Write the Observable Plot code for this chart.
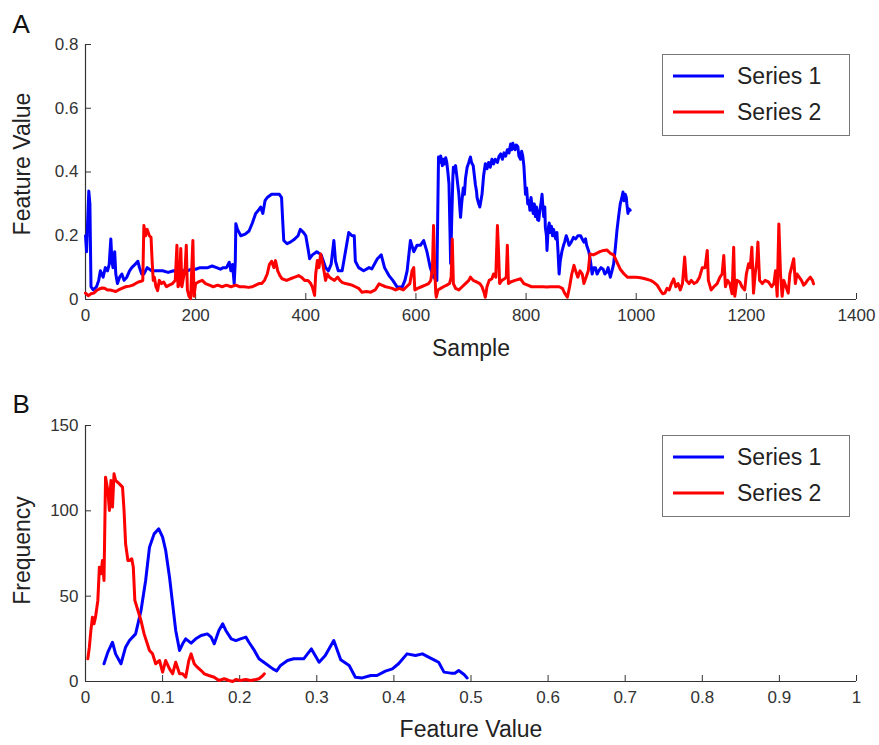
<!DOCTYPE html>
<html><head><meta charset="utf-8">
<script src="https://cdn.jsdelivr.net/npm/d3@7"></script>
<script src="https://cdn.jsdelivr.net/npm/@observablehq/plot@0.6"></script>
<style>
body{margin:0;background:#fff;font-family:"Liberation Sans",Arial,sans-serif;}
#fig{position:relative;width:879px;height:745px;}
#fig svg{display:block;}
</style></head><body><div id="fig"></div>
<script>
// ---------- Data ----------
const seriesNames = ["Series 1", "Series 2"];
const sampleTicks = [0, 200, 400, 600, 800, 1000, 1200, 1400];
const featureTicks = [0, 0.2, 0.4, 0.6, 0.8];
const histXTicks = [0, 0.1, 0.2, 0.3, 0.4, 0.5, 0.6, 0.7, 0.8, 0.9, 1];
const freqTicks = [0, 50, 100, 150];

// Panel A, Series 1
const s1Sample = [0,2,4,6,8,10,14,20,24,27,32,36,40,43,46,48,50,53,55,58,62,66,70,75,80,84,90,95,98,102,106,112,120,130,140,150,160,170,176,185,192,200,208,215,222,230,238,245,250,256,261,264,267,270,272,273,276,282,290,297,303,309,314,318,322,326,330,338,345,352,356,358,360,366,372,380,386,390,396,400,404,407,412,420,428,432,436,441,446,451,454,459,466,472,478,484,488,490,496,505,515,520,530,537,543,551,558,566,575,580,584,590,596,602,608,614,620,626,632,
  638,641,643,645,648,650,652,654,656,658,660,662,663,665,667,668,670,672,674,676,678,680,681,683,686,688,690,693,696,699,701,704,706,708,710,711,714,716,718,720,723,726,729,732,735,738,741,744,748,751,754,757,760,763,766,769,772,774,776,778,780,782,785,787,790,792,794,796,799,801,803,805,807,809,811,813,815,817,819,821,823,825,827,829,831,832,834,835,837,838,840,842,844,846,848,850,852,854,856,858,860,862,865,868,870,873,875,878,882,886,890,894,899,902,905,908,910,912,914,917,920,923,926,929,932,936,940,943,946,949,953,956,959,962,965,968,971,974,976,978,980,982,983,985,987,989];
const s1Value = [0.2,0.15,0.25,0.34,0.3,0.04,0.03,0.04,0.06,0.09,0.07,0.1,0.09,0.11,0.19,0.12,0.1,0.15,0.08,0.05,0.07,0.08,0.06,0.07,0.09,0.1,0.11,0.12,0.1,0.08,0.08,0.1,0.09,0.09,0.09,0.085,0.09,0.085,0.09,0.09,0.095,0.095,0.1,0.1,0.1,0.105,0.1,0.095,0.1,0.1,0.117,0.09,0.11,0.05,0.12,0.238,0.22,0.2,0.205,0.215,0.24,0.27,0.28,0.29,0.27,0.31,0.32,0.33,0.33,0.33,0.32,0.25,0.185,0.175,0.18,0.19,0.2,0.22,0.21,0.2,0.16,0.128,0.14,0.15,0.14,0.12,0.1,0.09,0.11,0.185,0.12,0.09,0.09,0.15,0.21,0.2,0.2,0.12,0.1,0.09,0.1,0.096,0.128,0.14,0.1,0.075,0.06,0.039,0.039,0.06,0.09,0.185,0.15,0.17,0.17,0.185,0.15,0.1,0.07,
  0.06,0.447,0.43,0.45,0.42,0.44,0.425,0.445,0.43,0.4,0.363,0.2,0.113,0.25,0.38,0.415,0.4,0.42,0.39,0.36,0.33,0.28,0.258,0.3,0.35,0.33,0.38,0.415,0.43,0.447,0.43,0.42,0.39,0.36,0.34,0.32,0.3,0.29,0.31,0.33,0.39,0.426,0.41,0.43,0.415,0.44,0.425,0.44,0.43,0.45,0.457,0.44,0.46,0.45,0.47,0.46,0.488,0.47,0.49,0.475,0.47,0.485,0.48,0.45,0.44,0.465,0.45,0.42,0.33,0.35,0.3,0.31,0.28,0.32,0.29,0.27,0.3,0.26,0.29,0.25,0.248,0.28,0.3,0.33,0.28,0.26,0.29,0.227,0.2,0.154,0.22,0.24,0.21,0.23,0.2,0.22,0.2,0.19,0.21,0.15,0.08,0.12,0.15,0.17,0.18,0.2,0.19,0.17,0.18,0.195,0.19,0.2,0.2,0.19,0.18,0.19,0.17,0.16,0.15,0.12,0.08,0.1,0.1,0.08,0.09,0.1,0.095,0.08,0.085,0.1,0.07,0.09,0.112,0.16,0.216,0.26,0.3,0.32,0.337,0.31,0.33,0.32,0.3,0.27,0.284,0.28];

// Panel A, Series 2
const s2Sample = [0,5,10,15,20,25,30,35,40,45,49,55,60,66,73,80,86,91,96,101,104,106,109,112,116,119,121,123,125,128,131,134,138,142,147,152,158,163,166,168,171,173,175,178,181,183,185,188,191,193,195,197,200,205,212,218,225,232,240,248,256,264,273,280,288,296,303,309,315,320,325,330,334,338,342,345,349,353,357,365,372,380,387,392,398,404,409,412,416,418,421,424,427,430,433,436,439,443,447,452,458,462,466,472,478,484,490,496,502,510,518,526,533,538,545,550,557,563,570,577,583,589,593,596,598,603,610,617,623,627,630,632,634,636,637,640,645,650,656,661,664,666,668,672,678,684,690,696,699,704,710,716,720,724,726,729,733,738,741,745,748,750,752,756,761,764,766,768,772,780,790,796,803,810,820,830,838,844,852,860,866,870,875,879,883,887,890,894,898,902,905,909,913,916,922,928,934,941,947,953,959,965,971,978,984,990,1000,1008,1016,1026,1032,1038,1044,1048,1052,1056,1060,1064,1068,1072,1076,1080,1084,1088,1091,1096,1100,1105,1110,1115,1120,1125,1129,1131,1136,1141,1147,1152,1156,1159,1162,1166,1170,1174,1177,1179,1183,1188,1192,1197,1200,1204,1207,1210,1213,1216,1219,1221,1224,1229,1234,1240,1246,1250,1253,1256,1259,1262,1265,1268,1272,1276,1279,1282,1286,1289,1292,1296,1300,1304,1307,1311,1316,1320,1322];
const s2Value = [0.02,0.012,0.018,0.02,0.028,0.033,0.036,0.035,0.03,0.03,0.028,0.025,0.03,0.035,0.04,0.042,0.045,0.05,0.055,0.057,0.06,0.232,0.2,0.22,0.2,0.195,0.12,0.06,0.07,0.04,0.028,0.06,0.05,0.055,0.04,0.045,0.05,0.06,0.17,0.04,0.05,0.16,0.04,0.07,0.1,0.17,0.03,0.01,0.003,0.1,0.185,0.01,0.05,0.055,0.06,0.05,0.045,0.04,0.045,0.04,0.045,0.04,0.045,0.04,0.04,0.038,0.04,0.045,0.05,0.05,0.06,0.08,0.11,0.12,0.1,0.122,0.09,0.075,0.065,0.06,0.065,0.07,0.075,0.07,0.06,0.06,0.05,0.039,0.013,0.08,0.122,0.1,0.143,0.12,0.09,0.06,0.08,0.07,0.065,0.06,0.07,0.06,0.054,0.05,0.048,0.045,0.04,0.035,0.023,0.025,0.023,0.03,0.049,0.045,0.04,0.038,0.035,0.03,0.035,0.03,0.04,0.05,0.09,0.1,0.03,0.035,0.04,0.045,0.05,0.06,0.1,0.232,0.1,0.02,0.007,0.03,0.035,0.04,0.045,0.05,0.07,0.19,0.05,0.035,0.03,0.04,0.05,0.06,0.07,0.06,0.055,0.05,0.04,0.02,0.007,0.04,0.06,0.065,0.08,0.07,0.232,0.15,0.05,0.06,0.065,0.07,0.17,0.05,0.055,0.06,0.065,0.05,0.045,0.04,0.04,0.04,0.039,0.04,0.04,0.04,0.035,0.02,0.007,0.04,0.08,0.107,0.09,0.07,0.09,0.08,0.05,0.07,0.09,0.143,0.14,0.145,0.15,0.154,0.155,0.145,0.14,0.117,0.095,0.08,0.07,0.07,0.07,0.068,0.065,0.06,0.054,0.045,0.028,0.018,0.02,0.035,0.03,0.05,0.065,0.04,0.05,0.03,0.05,0.133,0.06,0.05,0.06,0.05,0.055,0.07,0.1,0.1,0.154,0.06,0.03,0.04,0.05,0.07,0.08,0.138,0.04,0.06,0.05,0.018,0.164,0.01,0.06,0.055,0.04,0.03,0.08,0.112,0.1,0.164,0.02,0.08,0.12,0.18,0.06,0.05,0.06,0.055,0.04,0.05,0.09,0.01,0.237,0.08,0.01,0.06,0.04,0.02,0.08,0.1,0.128,0.05,0.08,0.07,0.06,0.045,0.05,0.06,0.07,0.06,0.049];

// Panel B, Series 1 histogram
const h1Value = [0.024,0.029,0.035,0.039,0.046,0.052,0.057,0.065,0.072,0.078,0.083,0.089,0.095,0.1,0.104,0.109,0.113,0.117,0.122,0.126,0.13,0.137,0.143,0.15,0.158,0.163,0.167,0.173,0.178,0.182,0.189,0.195,0.201,0.208,0.212,0.219,0.225,0.234,0.243,0.248,0.253,0.262,0.27,0.283,0.293,0.303,0.311,0.322,0.331,0.342,0.35,0.359,0.37,0.378,0.389,0.398,0.406,0.417,0.428,0.437,0.445,0.452,0.458,0.465,0.474,0.479,0.484,0.491,0.495];
const h1Count = [10.4,17.2,23,16.2,10.4,20.1,24,27.9,41.6,59.2,78.7,86.5,89.5,84.6,76.8,61.1,45.5,29.9,18.2,22.1,25,22.5,25,27,27.9,26,22.1,29.9,33.8,29.9,25,24,25,26,23,18.2,13.3,10.4,7.4,6.2,9.4,12.3,13.3,13.3,19.1,11.3,15.2,24,12.7,9.4,2.5,2.1,3.5,3.5,6.1,7.4,10.4,16.2,15.2,16.2,14.3,12.7,11.3,5.5,4.9,4.9,6.4,4.1,2.1];

// Panel B, Series 2 histogram
const h2Value = [0.003,0.005,0.007,0.009,0.011,0.013,0.016,0.018,0.02,0.022,0.024,0.026,0.029,0.031,0.033,0.035,0.037,0.039,0.044,0.048,0.05,0.052,0.055,0.057,0.06,0.062,0.064,0.068,0.072,0.076,0.083,0.087,0.091,0.096,0.1,0.104,0.109,0.113,0.117,0.122,0.126,0.13,0.134,0.137,0.141,0.145,0.15,0.154,0.16,0.167,0.173,0.18,0.186,0.191,0.195,0.201,0.208,0.214,0.221,0.225,0.23,0.232];
const h2Count = [13.3,20.1,29.9,37.7,33.8,37.7,47.5,67,63.1,70.9,59.2,119.7,111.9,100.2,117.8,102.2,121.7,117.8,115.8,113.9,100.2,80.7,70.9,70.9,71.9,67,47.5,41.6,35.7,27.9,18.2,16.2,10.4,12.3,5.5,12.3,7.4,4.5,11.3,4.5,4.5,2.5,12.3,16.2,10.4,8.4,6.4,4.5,3.5,2.5,0.6,1.6,0.6,0,1.2,0.6,1.2,0.6,1.2,1.6,3.5,4.5];

// ---------- Build tables ----------
const zip = (xs, ys) => xs.map((x, i) => ({x, y: ys[i]}));
const lineA1 = zip(s1Sample, s1Value);
const lineA2 = zip(s2Sample, s2Value);
const lineB1 = zip(h1Value, h1Count);
const lineB2 = zip(h2Value, h2Count);

const BLUE = "#0000ff", RED = "#ff0000";
const FONT = '"Liberation Sans", Arial, Helvetica, sans-serif';
const style = {fontFamily: FONT, fontSize: "17px", color: "#333", background: "white", overflow: "visible"};

function panel({height, marginTop, marginBottom, xDomain, yDomain, xTicks, yTicks, lines, xLabel, yLabel, yLabelDy, letter, xLabelDy, letterDy}) {
  return Plot.plot({
    width: 879, height, marginLeft: 85, marginRight: 23, marginTop, marginBottom,
    style,
    x: {domain: xDomain},
    y: {domain: yDomain},
    marks: [
      Plot.ruleY([yDomain[0]], {stroke: "#333", strokeWidth: 1.2}),
      Plot.ruleX([xDomain[0]], {stroke: "#333", strokeWidth: 1.2}),
      Plot.axisX({ticks: xTicks, tickSize: -6, tickPadding: 15, tickFormat: d => String(d), label: null, fontSize: 17, fill: "#333"}),
      Plot.axisY({ticks: yTicks, tickSize: -6, tickPadding: 13, tickFormat: d => String(d), label: null, fontSize: 17, fill: "#333"}),
      Plot.line(lines[0], {x: "x", y: "y", stroke: BLUE, strokeWidth: 3, strokeLinejoin: "round"}),
      Plot.line(lines[1], {x: "x", y: "y", stroke: RED, strokeWidth: 3, strokeLinejoin: "round"}),
      Plot.text([xLabel], {text: d => d, frameAnchor: "bottom", dy: xLabelDy, fontSize: 23, fill: "#222"}),
      Plot.text([yLabel], {text: d => d, frameAnchor: "left", textAnchor: "middle", lineAnchor: "middle", dx: -63, dy: yLabelDy, rotate: -90, fontSize: 23, fill: "#222"}),
      Plot.text([letter], {text: d => d, frameAnchor: "top-left", dx: -73, dy: letterDy, textAnchor: "start", lineAnchor: "top", fontSize: 26, fill: "#111"})
    ]
  });
}

function addLegend(svg, top) {
  const g = d3.select(svg).append("g");
  g.append("rect").attr("x", 662.5).attr("y", top + 0.5).attr("width", 187).attr("height", 81)
    .attr("fill", "white").attr("stroke", "#777").attr("stroke-width", 1);
  const cols = [BLUE, RED];
  seriesNames.forEach((name, i) => {
    const cy = top + 22 + i * 36;
    g.append("line").attr("x1", 673).attr("x2", 724).attr("y1", cy).attr("y2", cy)
      .attr("stroke", cols[i]).attr("stroke-width", 3);
    g.append("text").attr("x", 737).attr("y", cy).attr("dy", "0.35em").attr("text-anchor", "start")
      .attr("font-size", 23).attr("font-family", FONT).attr("fill", "#222").text(name);
  });
}

const fig = document.getElementById("fig");

const svgA = panel({height: 380, marginTop: 44, marginBottom: 81, xDomain: [0, 1400], yDomain: [0, 0.8],
  xTicks: sampleTicks, yTicks: featureTicks, lines: [lineA1, lineA2], xLabel: "Sample", yLabel: "Feature Value",
  yLabelDy: -8, letter: "A", xLabelDy: 56, letterDy: -30});
addLegend(svgA, 54);
fig.appendChild(svgA);

const svgB = panel({height: 365, marginTop: 45, marginBottom: 64, xDomain: [0, 1], yDomain: [0, 150],
  xTicks: histXTicks, yTicks: freqTicks, lines: [lineB1, lineB2], xLabel: "Feature Value", yLabel: "Frequency",
  yLabelDy: -3, letter: "B", xLabelDy: 55, letterDy: -31});
addLegend(svgB, 55);
fig.appendChild(svgB);
</script>
</body></html>
